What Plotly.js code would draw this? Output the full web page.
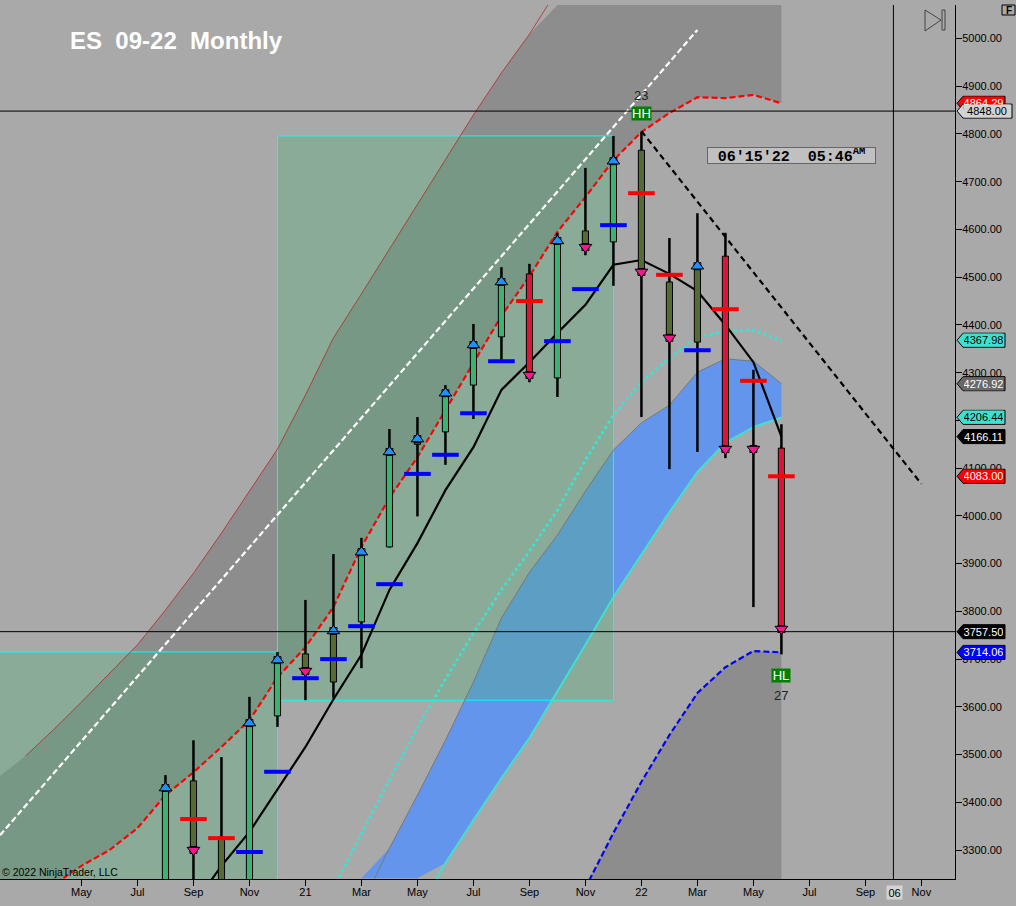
<!DOCTYPE html>
<html><head><meta charset="utf-8">
<script src="https://cdn.plot.ly/plotly-3.0.1.min.js"></script>
<style>html,body{margin:0;padding:0;background:#A9A9A9}#c{width:1016px;height:906px}</style>
</head><body><div id="c"></div>
<script>
// --- axes ---
const tickVals=[0,2,4,6,8,10,12,14,16,18,20,22,24,26,28,30];
const tickText=['May','Jul','Sep','Nov','21','Mar','May','Jul','Sep','Nov','22','Mar','May','Jul','Sep','Nov'];
const xRange=[-2.91,31.2], yRange=[3239.4,5070.2];
// --- monthly bars: Aug-20 (3) ... Jun-22 (25) ---
const barIdx=[3,4,5,6,7,8,9,10,11,12,13,14,15,16,17,18,19,20,21,22,23,24,25];
const barOpen =[3195,3445,3327,3180,3581,3711,3652,3778,3935,4150,4176,4274,4375,4507,4289,4597,4574,4766,4490,4364,4544,4146,4142];
const barClose=[3430,3300,3190,3566,3698,3675,3759,3924,4134,4161,4257,4358,4490,4295,4576,4563,4743,4511,4373,4523,4140,4140,3763];
const barHigh =[3457,3530,3495,3621,3715,3824,3920,3954,4182,4207,4274,4402,4521,4528,4593,4729,4796,4804,4582,4634,4593,4306,4192];
const barLow  =[3180,3170,3170,3170,3558,3614,3619,3681,3934,3999,4107,4203,4327,4280,4249,4546,4482,4207,4098,4134,4121,3809,3710];
const barColor=['g','o','o','g','g','o','o','g','g','o','g','g','g','r','g','o','g','o','o','o','r','r','r'];
const arrowDir=['u','d','','u','u','d','u','u','u','u','u','u','u','d','u','d','u','d','d','u','d','d','d'];
const colorMap={g:'#3CB371',o:'#556B2F',r:'#DC143C'};
// --- horizontal dashes ---
const dashIdx=[4,5,6,7,8,9,10,11,12,13,14,15,16,17,18,19,20,21,22,23,24,25];
const dashVal=[3365,3325,3296,3464,3660,3700,3769,3857,4088,4128,4215,4324,4450,4366,4475,4609,4676,4505,4347,4433,4283,4083];
const dashCol=['r','r','b','b','b','b','b','b','b','b','b','b','r','b','b','b','r','r','b','r','r','r'];
// --- lines ---
const maIdx=[4,5,6,7,8,9,10,11,12,13,14,15,16,17,18,19,20,21,22,23,24,25];
const maBlack=[3185,3267,3338,3426,3516,3616,3709,3845,3943,4054,4144,4264,4322,4383,4442,4526,4536,4507,4471,4400,4322,4166.11];
const redIdx=[-3,-2,-1,0,1,2,3,4,5,6,7,8,9,10,11,12,13,14,15,16,17,18,19,20,21,22,23,24,25];
const redDash=[3143,3185,3227,3267,3300,3346,3415,3463,3516,3572,3662,3725,3809,3935,4038,4123,4222,4322,4419,4502,4595,4668,4745,4804,4844,4877,4875,4882,4864.29];
const cloudTop=[3451,3497,3552,3610,3671,3730,3803,3880,3964,4052,4140,4253,4373,4465,4559,4651,4745,4840,4928,5009,5070,5200,5200,5200,5200,5200,5200,5200,5200];
const bandIdx=[-2,-1,0,1,2,3,4,5,6,7,8,9,10,11,12,13,14,15,16,17];
const bandUpper=[3497,3552,3610,3671,3730,3803,3880,3964,4052,4140,4253,4373,4465,4559,4651,4745,4840,4928,5009,5102];
const grayIdx=[10,11,12,13,14,15,16,17,18,19,20,21,22,23,24,25];
const grayLine=[3185,3304,3415,3530,3652,3786,3882,3960,4052,4138,4195,4232,4301,4329,4324,4276.92];
const grayFillTop=[3241,3304,3415,3530,3652,3786,3882,3960,4052,4138,4195,4232,4301,4329,4324,4276.92];
const turqIdx=[12,13,14,15,16,17,18,19,20,21,22,23,24,25];
const turqSolid=[3174,3273,3363,3451,3535,3631,3730,3830,3918,4008,4092,4153,4186,4206.44];
const blueFillLowIdx=[25,24,23,22,21,20,19,18,17,16,15,14,13,12,11,10];
const blueFillLow=[4206.44,4186,4153,4092,4008,3918,3830,3730,3631,3535,3451,3363,3273,3241,3241,3241];
const dotIdx=[9,10,11,12,13,14,15,16,17,18,19,20,21,22,23,24,25];
const turqDot=[3221,3334,3447,3556,3658,3755,3845,3926,4012,4117,4211,4280,4331,4373,4387,4389,4367.98];
const blueIdx=[17,18,19,20,21,22,23,24,25];
const blueDash=[3101,3221,3336,3443,3541,3629,3683,3717,3714.06];
// --- rectangles, trend lines, cross hairs ---
const rect1X=[-3,7,7,-3,-3], rect1Y=[3715,3715,3180,3180,3715];
const rect2X=[7,19,19,7,7], rect2Y=[4796,4796,3614,3614,4796];
const whiteX=[-2.91,22], whiteY=[3331,5018];
const blackDashX=[20,30], blackDashY=[4806,4067];
const crossA=4848, crossB=3757.5, crossX=29;
// --- price tags ---
const tagVal=[4864.29,4848,4367.98,4276.92,4206.44,4166.11,4083,3757.5,3714.06];
const tagBg=['#FF0000','#D3D3D3','#40E0D0','#696969','#40E0D0','#000000','#FF0000','#000000','#0000FF'];
const tagFg=['#FFFFFF','#000000','#000000','#FFFFFF','#000000','#FFFFFF','#FFFFFF','#FFFFFF','#FFFFFF'];

const FONT='"Liberation Sans", Arial, sans-serif';
const W=955,H=874,T=5;
const px=p=>p/W, py=p=>1-(p-T)/H;
const CLOUD='rgba(60,60,60,0.25)';
const RECT='rgba(80,174,120,0.35)';

// wick segments
const wx=[],wy=[];
barIdx.forEach((x,i)=>{
  const top=Math.max(barOpen[i],barClose[i]),bot=Math.min(barOpen[i],barClose[i]);
  wx.push(x,x,null,x,x,null); wy.push(barHigh[i],top,null,bot,barLow[i],null);
});
const pick=(d)=>{const xs=[],ys=[];barIdx.forEach((x,i)=>{if(arrowDir[i]===d){xs.push(x);ys.push(barClose[i]);}});return[xs,ys];};
const [ux,uy]=pick('u'),[dx,dy]=pick('d');
const mainLine=(x,y,color,w,dash)=>({x,y,mode:'lines',line:{color,width:w,dash:dash||'solid'},type:'scatter',hoverinfo:'skip'});
const ov=t=>Object.assign(t,{xaxis:'x2',yaxis:'y2'});

const data=[
 // clouds
 {x:redIdx,y:redDash,mode:'lines',line:{width:0},type:'scatter'},
 {x:redIdx,y:cloudTop,mode:'lines',line:{width:0},fill:'tonexty',fillcolor:CLOUD,type:'scatter'},
 {x:blueIdx,y:blueDash,mode:'lines',line:{width:0},fill:'tozeroy',fillcolor:CLOUD,type:'scatter'},
 {x:grayIdx.concat(blueFillLowIdx),y:grayFillTop.concat(blueFillLow),mode:'lines',line:{width:0},fill:'toself',fillcolor:'#6495ED',type:'scatter'},
 // green rectangles
 {x:rect1X,y:rect1Y,mode:'lines',line:{color:'#00FFFF',width:1},fill:'toself',fillcolor:RECT,type:'scatter'},
 {x:rect2X,y:rect2Y,mode:'lines',line:{color:'#00FFFF',width:1},fill:'toself',fillcolor:RECT,type:'scatter'},
 // lines behind the bars
 mainLine(bandIdx,bandUpper,'rgba(178,34,34,0.75)',1),
 mainLine(grayIdx,grayLine,'#787878',1),
 mainLine(turqIdx,turqSolid,'#40E0D0',2),
 mainLine(dotIdx,turqDot,'#40E0D0',3,'3px,3px'),
 mainLine(blueIdx,blueDash,'#0000FF',2.2,'6px,3px'),
 mainLine(redIdx,redDash,'#FF0000',2.2,'6px,3px'),
 mainLine(maIdx,maBlack,'#000000',2.2),
 mainLine(whiteX,whiteY,'#FFFFFF',2.2,'6px,3px'),
 // overlay: bars, wicks, arrows, dashes
 ov({type:'bar',x:barIdx,y:barClose.map((c,i)=>Math.abs(c-barOpen[i])),base:barClose.map((c,i)=>Math.min(c,barOpen[i])),width:0.22,
    marker:{color:barColor.map(c=>colorMap[c]),line:{color:'#000',width:1}}}),
 ov({x:wx,y:wy,mode:'lines',line:{color:'#000',width:2.5},type:'scatter',connectgaps:false}),
 ov({x:dashIdx,y:dashVal,mode:'markers',type:'scatter',marker:{symbol:'line-ew',size:19,line:{width:4,color:dashCol.map(c=>c==='r'?'#FF0000':'#0000FF')}}}),
 ov({x:ux,y:uy,mode:'markers',type:'scatter',marker:{symbol:'square-open',size:7,color:'#000',line:{width:1,color:'#000'}}}),
 ov({x:dx,y:dy,mode:'markers',type:'scatter',marker:{symbol:'square-open',size:7,color:'#000',line:{width:1,color:'#000'}}}),
 ov({x:ux,y:uy,mode:'markers',type:'scatter',marker:{symbol:'triangle-up',size:11,color:'#1E90FF',line:{width:1,color:'#000'}}}),
 ov({x:dx,y:dy,mode:'markers',type:'scatter',marker:{symbol:'triangle-down',size:11,color:'#FF1493',line:{width:1,color:'#000'}}}),
 ov(mainLine(blackDashX,blackDashY,'#000000',2.2,'6px,4px'))
];

const ann=[
 {xref:'paper',yref:'paper',x:px(68),y:py(40),xanchor:'left',yanchor:'middle',showarrow:false,
  text:'<b>ES\u00A0\u00A009-22\u00A0\u00A0Monthly</b>',font:{family:FONT,size:24,color:'#FFFFFF'}},
 {xref:'paper',yref:'paper',x:0,y:py(872),xanchor:'left',yanchor:'middle',showarrow:false,
  text:'© 2022 NinjaTrader, LLC',font:{family:FONT,size:10.5,color:'#000'}},
 {xref:'paper',yref:'paper',x:px(707),y:py(155.5),xanchor:'left',yanchor:'middle',showarrow:false,width:167,height:15,
  bgcolor:'#C0C0C0',bordercolor:'#666',borderwidth:1,borderpad:0,align:'center',
  text:'<b>06\u203215\u203222\u00A0\u00A005:46<sup>AM</sup></b>',font:{family:'"Liberation Mono", monospace',size:15,color:'#000'}},
 {xref:'x',yref:'y',x:20,y:4881,showarrow:false,text:'23',font:{family:FONT,size:13,color:'#222'}},
 {xref:'x',yref:'y',x:20,y:4843,showarrow:false,text:'HH',width:19,height:13,bgcolor:'#008000',borderpad:0,font:{family:FONT,size:13,color:'#FFF'}},
 {xref:'x',yref:'y',x:25,y:3665.5,showarrow:false,text:'HL',width:18,height:13,bgcolor:'#008000',borderpad:0,font:{family:FONT,size:13,color:'#FFF'}},
 {xref:'x',yref:'y',x:25,y:3623,showarrow:false,text:'27',font:{family:FONT,size:13,color:'#222'}},
 {xref:'paper',yref:'paper',x:px(894),y:py(892),xanchor:'center',yanchor:'middle',showarrow:false,text:'06',width:15,height:13,bgcolor:'#D3D3D3',borderpad:0,font:{family:FONT,size:11,color:'#000'}},
 {xref:'paper',yref:'paper',x:px(1008.5),y:py(10),xanchor:'center',yanchor:'middle',showarrow:false,text:'<b>F</b>',font:{family:FONT,size:10,color:'#000'}}
];
tagVal.forEach((v,i)=>{
  const wide=v===crossA;
  ann.push({xref:'paper',yref:'y',x:px(963),y:v,xanchor:'left',yanchor:'middle',showarrow:false,
    width:wide?46:39,height:12,bgcolor:tagBg[i],borderpad:0,align:'center',
    text:v.toFixed(2),font:{family:FONT,size:11,color:tagFg[i]}});
});

const shapes=[
 {type:'path',xref:'paper',yref:'paper',path:`M ${px(925)} ${py(10)} L ${px(941)} ${py(20)} L ${px(925)} ${py(31)} Z`,line:{color:'#444',width:1},fillcolor:'rgba(0,0,0,0)'},
 {type:'rect',xref:'paper',yref:'paper',x0:px(942),x1:px(945),y0:py(10),y1:py(30),line:{color:'#444',width:1},fillcolor:'rgba(0,0,0,0)'},
 {type:'rect',xref:'paper',yref:'paper',x0:px(1002),x1:px(1015),y0:py(5),y1:py(15),line:{color:'#000',width:1},fillcolor:'rgba(0,0,0,0)'},
 {type:'line',xref:'paper',yref:'y',x0:0,x1:1,y0:crossA,y1:crossA,line:{color:'#000',width:1}},
 {type:'line',xref:'paper',yref:'y',x0:0,x1:1,y0:crossB,y1:crossB,line:{color:'#000',width:1}},
 {type:'line',xref:'x',yref:'paper',x0:crossX,x1:crossX,y0:0,y1:1,line:{color:'#000',width:1}}
];
tagVal.forEach((v,i)=>{
  const r=v===crossA?57:50;
  shapes.push({type:'path',xref:'paper',yref:'y',xanchor:1,xsizemode:'pixel',yanchor:v,ysizemode:'pixel',
    path:`M 2 0 L 8 -7 L ${r} -7 L ${r} 7 L 8 7 Z`,fillcolor:tagBg[i],line:{color:'#000',width:1}});
});

const layout={
 width:1016,height:906,margin:{l:0,r:61,t:5,b:27,pad:0},paper_bgcolor:'#A9A9A9',plot_bgcolor:'#A9A9A9',
 showlegend:false,hovermode:false,barmode:'overlay',
 xaxis:{range:xRange,tickmode:'array',tickvals:tickVals,ticktext:tickText,showgrid:false,zeroline:false,ticks:'outside',ticklen:6,tickcolor:'#000',
        ticklabelstandoff:-3,showline:true,linecolor:'#000',linewidth:1,tickfont:{family:FONT,size:11,color:'#000'},fixedrange:true},
 yaxis:{range:yRange,side:'right',dtick:100,tick0:3300,tickformat:'.2f',showgrid:false,zeroline:false,ticks:'outside',ticklen:6,tickcolor:'#000',
        ticklabelstandoff:-2,showline:true,linecolor:'#000',linewidth:1,tickfont:{family:FONT,size:11,color:'#000'},fixedrange:true},
 xaxis2:{range:xRange,overlaying:'x',visible:false,fixedrange:true,anchor:'y2'},
 yaxis2:{range:yRange,overlaying:'y',visible:false,fixedrange:true,anchor:'x2',side:'right'},
 annotations:ann,shapes
};
Plotly.newPlot('c',data,layout,{displayModeBar:false,staticPlot:true});
</script></body></html>
